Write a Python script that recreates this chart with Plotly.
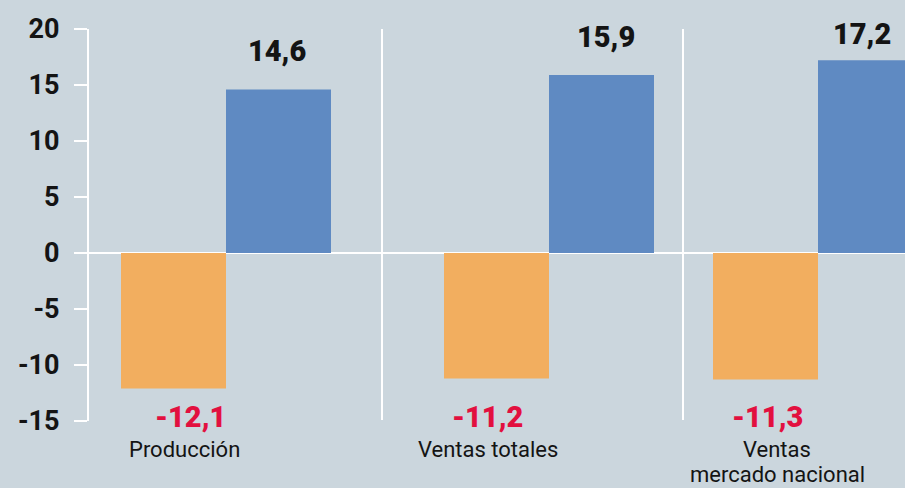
import plotly.graph_objects as go

# ---- data ----
categories = ["Producción", "Ventas totales", "Ventas<br>mercado nacional"]
change_2020 = [-12.1, -11.2, -11.3]
change_2021 = [14.6, 15.9, 17.2]
labels_2020 = ["-12,1", "-11,2", "-11,3"]
labels_2021 = ["14,6", "15,9", "17,2"]
y_ticks = [-15, -10, -5, 0, 5, 10, 15, 20]

# ---- layout (x axis units = pixels of the plot) ----
group_center = [226, 549, 818]
bar_w = 105
separators = [382, 683]
cat_label_x = [184, 488, 777]
red_label_dx = [17, -9, 2]
black_label_dx = [-2, 4, -9]
black_label_dy = [38, 38, 26]

BG = "#cbd6dd"
ORANGE = "#f2ae5f"
BLUE = "#5f8ac2"
RED = "#e2103f"
INK = "#141414"
FONT = "Roboto"

fig = go.Figure()
fig.add_bar(x=group_center, y=change_2020, width=bar_w, offset=-bar_w,
            marker=dict(color=ORANGE, line=dict(width=0)), showlegend=False, hoverinfo="skip")
fig.add_bar(x=group_center, y=change_2021, width=bar_w, offset=0,
            marker=dict(color=BLUE, line=dict(width=0)), showlegend=False, hoverinfo="skip")

for s in separators:
    fig.add_shape(type="line", xref="x", yref="y", x0=s, x1=s, y0=20.45, y1=-14.9,
                  line=dict(color="white", width=2), layer="below")

for xc, t, dx in zip(group_center, labels_2020, red_label_dx):
    fig.add_annotation(x=xc - bar_w / 2, xshift=dx, y=-15, yshift=4, text=t, showarrow=False,
                       yanchor="middle", xanchor="center",
                       font=dict(family=FONT, size=29, color=RED, weight=900))
for xc, v, t, dx, dy in zip(group_center, change_2021, labels_2021, black_label_dx, black_label_dy):
    fig.add_annotation(x=xc + bar_w / 2, xshift=dx, y=v, yshift=dy, text=t, showarrow=False,
                       yanchor="middle", xanchor="center",
                       font=dict(family=FONT, size=29, color=INK, weight=900))
for xl, c in zip(cat_label_x, categories):
    for i, line in enumerate(c.split("<br>")):
        fig.add_annotation(x=xl, xref="x", y=0, yref="paper", yshift=-15 - 25 * i, text=line,
                           showarrow=False, yanchor="top", xanchor="center", borderpad=0,
                           font=dict(family=FONT, size=22, color=INK))

fig.update_layout(
    width=905, height=488,
    margin=dict(l=89, r=0, t=29, b=67),
    paper_bgcolor=BG, plot_bgcolor=BG,
    barmode="overlay",
    xaxis=dict(range=[89, 905], visible=False, fixedrange=True),
    yaxis=dict(range=[-15, 20], tickvals=y_ticks, ticktext=[str(v) for v in y_ticks],
               showgrid=False, showline=True, linecolor="white", linewidth=2,
               ticks="outside", ticklen=13, tickwidth=2, tickcolor="white",
               zeroline=True, zerolinecolor="white", zerolinewidth=2,
               ticklabelstandoff=9, fixedrange=True,
               tickfont=dict(family=FONT, size=27, color=INK, weight=700)),
)

fig.write_html("out.html", config={"displayModeBar": False},
               post_script="document.body.style.margin='0';document.body.style.background='%s';" % BG)
